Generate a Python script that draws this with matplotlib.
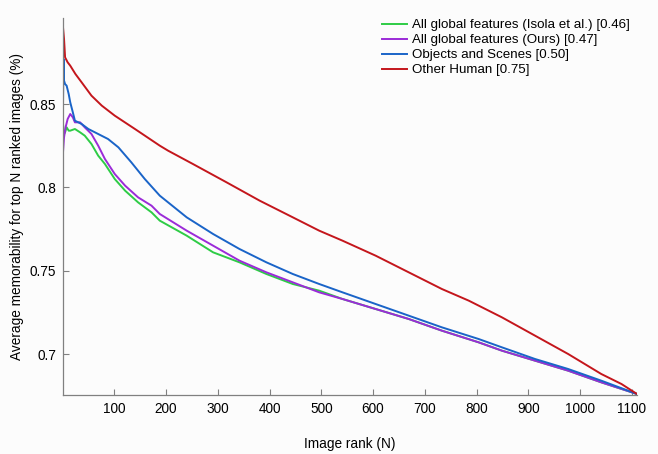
import matplotlib
matplotlib.use("Agg")
import matplotlib.pyplot as plt

plt.rcParams['font.family'] = ['Liberation Sans', 'DejaVu Sans']

labels = ["All global features (Isola et al.) [0.46]",
          "All global features (Ours) [0.47]",
          "Objects and Scenes [0.50]",
          "Other Human [0.75]"]
colors = ["#2ecc46", "#9b2bd8", "#1a64c8", "#c4161c"]

green_x = [1, 3, 5, 8, 12, 15, 24, 34, 43, 56, 69, 82, 101, 121, 146, 172, 188, 240, 291, 342, 394, 445, 496, 541, 605, 669, 733, 804, 849, 913, 977, 1041, 1110]
green_y = [0.838, 0.832, 0.833, 0.836, 0.834, 0.834, 0.835, 0.833, 0.831, 0.826, 0.819, 0.814, 0.805, 0.798, 0.791, 0.785, 0.780, 0.771, 0.761, 0.755, 0.748, 0.742, 0.738, 0.733, 0.727, 0.721, 0.714, 0.707, 0.702, 0.696, 0.690, 0.683, 0.676]

purple_x = [1, 3, 6, 10, 15, 20, 24, 34, 43, 56, 69, 82, 101, 121, 146, 172, 188, 240, 291, 342, 394, 445, 496, 541, 605, 669, 733, 804, 849, 913, 977, 1041, 1110]
purple_y = [0.821, 0.830, 0.836, 0.841, 0.844, 0.842, 0.839, 0.839, 0.836, 0.832, 0.825, 0.817, 0.808, 0.801, 0.794, 0.789, 0.784, 0.774, 0.765, 0.756, 0.749, 0.743, 0.737, 0.733, 0.727, 0.721, 0.714, 0.707, 0.702, 0.696, 0.690, 0.683, 0.676]

blue_x = [1, 2, 3, 5, 8, 12, 15, 20, 24, 37, 50, 69, 88, 108, 133, 159, 188, 240, 291, 342, 394, 445, 496, 541, 605, 669, 733, 804, 849, 913, 977, 1041, 1110]
blue_y = [0.850, 0.877, 0.864, 0.862, 0.861, 0.856, 0.851, 0.845, 0.840, 0.838, 0.835, 0.832, 0.829, 0.824, 0.815, 0.805, 0.795, 0.782, 0.772, 0.763, 0.755, 0.748, 0.742, 0.737, 0.730, 0.723, 0.716, 0.709, 0.704, 0.697, 0.691, 0.684, 0.676]

red_x = [1, 3, 5, 10, 15, 25, 37, 56, 76, 101, 140, 188, 204, 252, 317, 381, 445, 496, 541, 605, 669, 733, 785, 849, 913, 977, 1041, 1080, 1110]
red_y = [0.896, 0.889, 0.878, 0.875, 0.873, 0.868, 0.863, 0.855, 0.849, 0.843, 0.835, 0.825, 0.822, 0.814, 0.803, 0.792, 0.782, 0.774, 0.768, 0.759, 0.749, 0.739, 0.732, 0.722, 0.711, 0.700, 0.688, 0.682, 0.676]

xticks = [100, 200, 300, 400, 500, 600, 700, 800, 900, 1000, 1100]
yticks = [0.7, 0.75, 0.8, 0.85]
ytick_labels = ["0.7", "0.75", "0.8", "0.85"]

W, H = 658, 454
fig = plt.figure(figsize=(W / 100, H / 100), dpi=100)
fig.patch.set_facecolor("#fcfcfc")
left, right, top, bottom = 63, 637, 18, 395
ax = fig.add_axes([left / W, 1 - bottom / H, (right - left) / W, (bottom - top) / H])
ax.set_facecolor("#fcfcfc")

series = [(green_x, green_y), (purple_x, purple_y), (blue_x, blue_y), (red_x, red_y)]
for (xs, ys), c, lab in zip(series, colors, labels):
    ax.plot(xs, ys, color=c, lw=1.4, label=lab)

ax.set_xlim(1, 1110)
ax.set_ylim(0.6754, 0.9016)
ax.set_xticks(xticks)
ax.set_xticklabels([str(t) for t in xticks])
ax.set_yticks(yticks)
ax.set_yticklabels(ytick_labels)
ax.tick_params(direction="in", length=4, width=0.8, color="#808080", labelsize=9.8, pad=5)
for s in ["top", "right"]:
    ax.spines[s].set_visible(False)
for s in ["left", "bottom"]:
    ax.spines[s].set_color("#808080")
    ax.spines[s].set_linewidth(0.9)

ax.set_xlabel("Image rank (N)", fontsize=9.8, labelpad=15)
ax.set_ylabel("Average memorability for top N ranked images (%)", fontsize=9.8, labelpad=4)

leg = ax.legend(loc="upper right", frameon=False, fontsize=9.6, handlelength=1.9,
                handletextpad=0.35, labelspacing=0.2, borderaxespad=0, borderpad=0,
                bbox_to_anchor=(630 / W, 1 - 19 / H), bbox_transform=fig.transFigure)

fig.savefig("out.png", dpi=100, facecolor=fig.get_facecolor())
